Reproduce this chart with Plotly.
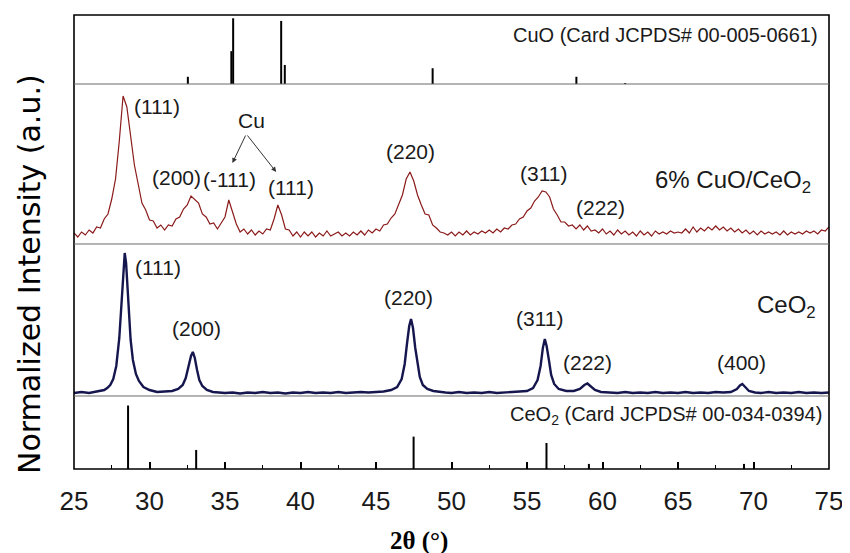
import plotly.graph_objects as go

# ---------------- data ----------------
# CuO reference card (JCPDS 00-005-0661): stick positions / relative intensities
CUO_2THETA = [32.54, 35.42, 35.54, 38.72, 38.96, 48.75, 58.27, 61.5]
CUO_INT = [11, 50, 100, 96, 29, 24, 11, 1.5]

# CeO2 reference card (JCPDS 00-034-0394)
CEO2_2THETA = [28.58, 33.09, 47.49, 56.29, 59.1, 69.37]
CEO2_INT = [100, 30, 51, 41, 8, 8]

# 6% CuO/CeO2 pattern, sampled every 0.25 deg from 25 to 75
RED_START = 25.0
RED_STEP = 0.25
RED_INT = [
    11, 7, 12, 9, 14, 11, 17, 16, 25, 30, 45, 65, 103, 148, 137, 110, 79, 60, 41, 34,
    24, 23, 16, 19, 14, 19, 18, 25, 27, 35, 39, 48, 44, 41, 30, 27, 20, 21, 15, 21,
    27, 44, 32, 20, 12, 15, 10, 14, 9, 13, 10, 15, 14, 25, 39, 29, 15, 14, 8, 12,
    7, 12, 8, 12, 7, 11, 8, 13, 8, 10, 12, 8, 11, 8, 12, 9, 13, 9, 14, 11,
    15, 13, 19, 20, 26, 30, 39, 49, 65, 72, 63, 49, 39, 30, 29, 19, 16, 12, 11, 9,
    12, 8, 12, 9, 13, 9, 12, 10, 13, 11, 14, 11, 15, 12, 16, 15, 19, 20, 25, 27,
    33, 36, 43, 47, 53, 52, 47, 35, 29, 22, 22, 18, 19, 15, 19, 14, 18, 13, 14, 11,
    15, 10, 13, 9, 14, 10, 13, 9, 12, 8, 13, 9, 12, 8, 13, 10, 12, 10, 13, 11,
    12, 11, 15, 11, 17, 12, 16, 13, 17, 14, 18, 14, 17, 13, 16, 12, 15, 11, 14, 10,
    13, 9, 13, 10, 12, 10, 12, 9, 13, 9, 12, 10, 12, 10, 13, 11, 13, 10, 14, 13,
    17,
]
RED_2THETA = [RED_START + RED_STEP * i for i in range(len(RED_INT))]

# CeO2 pattern
NAVY_2THETA = [
    25.0, 25.5, 26.0, 26.5, 27.0, 27.2, 27.4, 27.6, 27.8,
    28.0, 28.1, 28.2, 28.3, 28.36, 28.45, 28.55, 28.65, 28.75, 28.9, 29.1, 29.3, 29.6,
    30.0, 30.5, 31.0, 31.5, 31.9, 32.2, 32.4, 32.6, 32.75, 32.87, 33.0, 33.15, 33.3, 33.5, 33.8, 34.2, 34.6,
    35.0, 35.5, 36.0, 36.5, 37.0, 37.5, 38.0, 38.5, 39.0, 39.5, 40.0, 40.5, 41.0, 41.5, 42.0, 42.5,
    43.0, 43.5, 44.0, 44.5, 45.0, 45.5,
    46.0, 46.4, 46.7, 46.9, 47.05, 47.2, 47.32, 47.45, 47.6, 47.75, 47.9, 48.1, 48.4, 48.8,
    49.2, 49.6, 50.0, 50.5, 51.0, 51.5, 52.0, 52.5, 53.0, 53.5, 54.0, 54.5, 55.0,
    55.4, 55.7, 55.9, 56.05, 56.18, 56.3, 56.45, 56.6, 56.8, 57.1, 57.6,
    58.1, 58.5, 58.8, 59.0, 59.2, 59.5, 59.9,
    60.5, 61.0, 61.5, 62.0, 62.5, 63.0, 63.5, 64.0, 64.5, 65.0, 65.5, 66.0, 66.5, 67.0, 67.5, 68.0, 68.5,
    68.9, 69.1, 69.26, 69.45, 69.7, 70.1,
    70.5, 71.0, 71.5, 72.0, 72.5, 73.0, 73.5, 74.0, 74.5, 75.0,
]
NAVY_INT = [
    3, 4, 3, 4.5, 6, 8, 11, 17, 30,
    58, 84, 112, 136, 143, 133, 106, 78, 56, 36, 22, 15, 9,
    6, 4, 4.5, 5, 7, 11, 18, 30, 40, 44, 38, 26, 16, 10, 6, 4, 3.5,
    3, 3.5, 2.5, 3.5, 3, 4, 3, 3.5, 2.5, 3.5, 3, 4, 3, 3.5, 3, 4,
    3, 3.5, 4, 3.5, 4, 4.5,
    6, 9, 17, 32, 52, 70, 77, 68, 48, 31, 19, 11, 7, 5,
    4, 3.5, 3, 4, 3, 3.5, 3, 4, 3, 3.5, 4, 4, 5,
    8, 16, 30, 48, 57, 50, 36, 21, 12, 7, 5,
    5, 7, 11, 12.5, 10, 6, 4,
    3.5, 3, 4, 3, 3.5, 3, 4, 3, 3.5, 3, 4, 3, 3.5, 3, 4, 3.5, 4,
    7, 10.5, 12, 9, 5, 3.5,
    3, 4, 3, 3.5, 3, 4, 3, 3.5, 3, 3.5,
]

X_TICKS = [25, 30, 35, 40, 45, 50, 55, 60, 65, 70, 75]

RED_LABELS = [("(111)", 28.83, 138, "left"), ("(200)", 31.77, 66, "center"),
              ("(-111)", 35.29, 64, "center"), ("(111)", 39.36, 56, "center"),
              ("(220)", 47.28, 93, "center"), ("(311)", 56.07, 70, "center"),
              ("(222)", 59.89, 36, "center")]
NAVY_LABELS = [("(111)", 28.89, 128, "left"), ("(200)", 33.11, 67, "center"),
               ("(220)", 47.16, 98, "center"), ("(311)", 55.85, 77, "center"),
               ("(222)", 58.99, 33, "center"), ("(400)", 69.2, 33, "center")]

# ---------------- figure ----------------
# The page body adds an 8 px offset, so the figure is 8 px smaller and shifted.
D1, D2, D3 = 0.1608, 0.4956, 0.848
FONT = "Arial, Liberation Sans, sans-serif"


def sticks(xs, hs):
    sx, sy = [], []
    for x, h in zip(xs, hs):
        sx += [x, x, None]
        sy += [0, h, None]
    return sx, sy


fig = go.Figure()
cx, cy = sticks(CEO2_2THETA, CEO2_INT)
fig.add_trace(go.Scatter(x=cx, y=cy, mode="lines", line=dict(color="black", width=2),
                         xaxis="x", yaxis="y", hoverinfo="skip"))
fig.add_trace(go.Scatter(x=NAVY_2THETA, y=NAVY_INT, mode="lines",
                         line=dict(color="#16164f", width=2.4), xaxis="x", yaxis="y2"))
fig.add_trace(go.Scatter(x=RED_2THETA, y=RED_INT, mode="lines",
                         line=dict(color="#8b1a1a", width=1.2), xaxis="x", yaxis="y3"))
ux, uy = sticks(CUO_2THETA, CUO_INT)
fig.add_trace(go.Scatter(x=ux, y=uy, mode="lines", line=dict(color="black", width=2),
                         xaxis="x", yaxis="y4", hoverinfo="skip"))

hidden = dict(showgrid=False, zeroline=False, showticklabels=False, ticks="",
              showline=False, anchor="x")
fig.update_layout(
    width=842, height=545,
    margin=dict(l=66, r=18, t=7, b=84),
    paper_bgcolor="white", plot_bgcolor="white",
    showlegend=False,
    font=dict(family=FONT, color="#1a1a1a"),
    xaxis=dict(range=[25, 75], tickvals=X_TICKS, ticks="inside", ticklen=7, tickwidth=1.5,
               tickcolor="black", showgrid=False, zeroline=False, showline=False,
               anchor="y", tickfont=dict(size=26, family=FONT, color="#1a1a1a"),
               ticklabelstandoff=14,
               minor=dict(dtick=2.5, ticks="inside", ticklen=4, tickwidth=1.2,
                          tickcolor="black", showgrid=False)),
    yaxis=dict(domain=[0, D1], range=[0, 115], **hidden),
    yaxis2=dict(domain=[D1, D2], range=[0, 152], **hidden),
    yaxis3=dict(domain=[D2, D3], range=[0, 160], **hidden),
    yaxis4=dict(domain=[D3, 1], range=[0, 105], **hidden),
)

shapes = [dict(type="rect", xref="paper", yref="paper", x0=0, x1=1, y0=0, y1=1,
               line=dict(color="black", width=1.6))]
for d in (D1, D2, D3):
    shapes.append(dict(type="line", xref="paper", yref="paper", x0=0, x1=1, y0=d, y1=d,
                       line=dict(color="#6a6a6a", width=1)))
fig.update_layout(shapes=shapes)

ann = []
for t, x, y, a in RED_LABELS:
    ann.append(dict(text=t, x=x, y=y, xref="x", yref="y3", xanchor=a, yanchor="middle",
                    showarrow=False, font=dict(size=21)))
for t, x, y, a in NAVY_LABELS:
    ann.append(dict(text=t, x=x, y=y, xref="x", yref="y2", xanchor=a, yanchor="middle",
                    showarrow=False, font=dict(size=21)))
ann.append(dict(text="Cu", x=36.74, y=124, xref="x", yref="y3", showarrow=False,
                font=dict(size=21)))
for tx, ty in ((35.49, 81), (38.39, 72)):
    ann.append(dict(text="", x=tx, y=ty, xref="x", yref="y3", ax=36.41, ay=110,
                    axref="x", ayref="y3", showarrow=True, arrowhead=2, arrowsize=1,
                    arrowwidth=1, arrowcolor="#333"))
ann.append(dict(text="6% CuO/CeO<sub>2</sub>", x=63.32, y=62, xref="x", yref="y3",
                xanchor="left", yanchor="middle", showarrow=False, font=dict(size=24)))
ann.append(dict(text="CeO<sub>2</sub>", x=70.12, y=89, xref="x", yref="y2",
                xanchor="left", yanchor="middle", showarrow=False, font=dict(size=24)))
ann.append(dict(text="CuO (Card JCPDS# 00-005-0661)", x=0.988, y=0.956, xref="paper",
                yref="paper", xanchor="right", yanchor="middle", showarrow=False,
                font=dict(size=20)))
ann.append(dict(text="CeO<sub>2</sub> (Card JCPDS# 00-034-0394)", x=0.993, y=0.117,
                xref="paper", yref="paper", xanchor="right", yanchor="middle",
                showarrow=False, font=dict(size=20)))
ann.append(dict(text="<b>2θ (°)</b>", x=0.4565, y=-0.158, xref="paper", yref="paper",
                xanchor="center", yanchor="middle", showarrow=False,
                font=dict(size=25, family="Liberation Serif, Times New Roman, serif",
                          color="black")))
ann.append(dict(text="Normalized Intensity (a.u.)", x=-0.058, y=0.43, xref="paper",
                yref="paper", xanchor="center", yanchor="middle", textangle=-90,
                showarrow=False, font=dict(size=30, family="DejaVu Sans, sans-serif",
                                           color="black")))
fig.update_layout(annotations=ann)

fig.write_html("out.html")
